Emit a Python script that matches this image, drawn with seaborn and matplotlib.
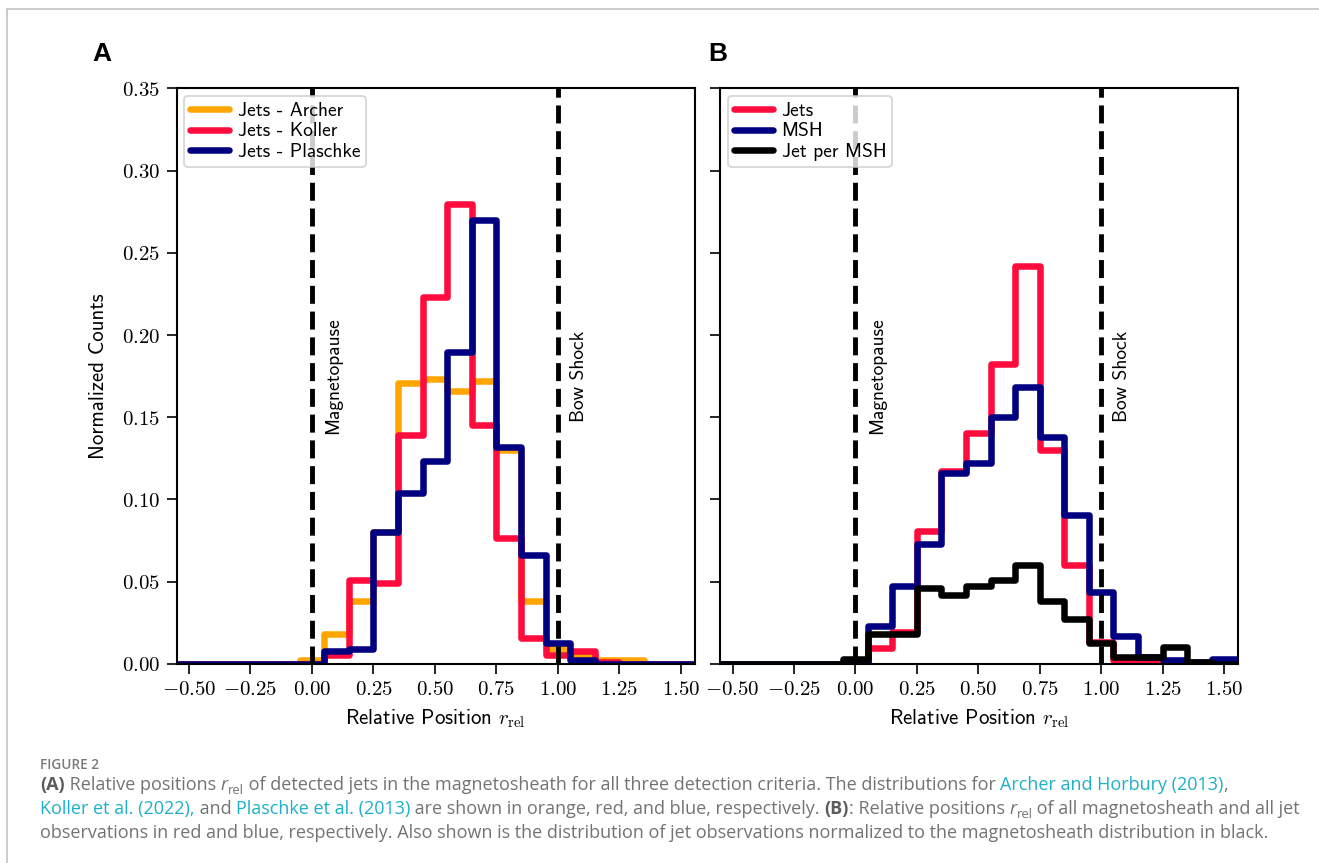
import numpy as np
import pandas as pd
import matplotlib
matplotlib.use("Agg")
import matplotlib.pyplot as plt
from matplotlib.lines import Line2D
from matplotlib.ticker import FuncFormatter
import seaborn as sns

# bin centres of the relative position r_rel (bin width 0.1)
r_centers = [-0.5, -0.4, -0.3, -0.2, -0.1, 0.0, 0.1, 0.2, 0.3, 0.4, 0.5,
             0.6, 0.7, 0.8, 0.9, 1.0, 1.1, 1.2, 1.3, 1.4, 1.5]
r_edges = [-0.55, -0.45, -0.35, -0.25, -0.15, -0.05, 0.05, 0.15, 0.25, 0.35, 0.45,
           0.55, 0.65, 0.75, 0.85, 0.95, 1.05, 1.15, 1.25, 1.35, 1.45, 1.55]

# panel A: normalized counts per detection criterion
archer = [0, 0, 0, 0, 0, 0.002, 0.018, 0.038, 0.080, 0.171, 0.173,
          0.166, 0.172, 0.130, 0.038, 0.009, 0.005, 0.002, 0.002, 0, 0]
koller = [0, 0, 0, 0, 0, 0, 0.005, 0.051, 0.049, 0.139, 0.223,
          0.280, 0.145, 0.0765, 0.0155, 0.005, 0.008, 0.001, 0, 0, 0]
plaschke = [0, 0, 0, 0, 0, 0, 0.0077, 0.009, 0.080, 0.104, 0.1235,
            0.1895, 0.270, 0.132, 0.066, 0.0124, 0.002, 0, 0, 0, 0]

# panel B: jets, magnetosheath and jets per magnetosheath
jets = [0, 0, 0, 0, 0, 0, 0.0093, 0.0193, 0.081, 0.117, 0.1406,
        0.1825, 0.242, 0.130, 0.060, 0.0135, 0.002, 0.001, 0, 0, 0]
msh = [0, 0, 0, 0, 0, 0.001, 0.0228, 0.047, 0.073, 0.116, 0.122,
       0.150, 0.1685, 0.138, 0.0905, 0.0438, 0.017, 0.0042, 0.002, 0.001, 0.0026]
jet_per_msh = [0, 0, 0, 0, 0, 0.003, 0.018, 0.018, 0.046, 0.0415, 0.0473,
               0.0508, 0.060, 0.038, 0.0275, 0.0124, 0.0042, 0.0042, 0.010, 0.001, 0]

y_ticks = [0.00, 0.05, 0.10, 0.15, 0.20, 0.25, 0.30, 0.35]
x_ticks = [-0.50, -0.25, 0.00, 0.25, 0.50, 0.75, 1.00, 1.25, 1.50]

ORANGE = "#FFA500"
RED = "#FF0B3D"
NAVY = "#000080"

W, H = 1319, 863

sns.set_theme(style="ticks", rc={
    "axes.linewidth": 1.5,
    "xtick.major.width": 1.2, "ytick.major.width": 1.2,
    "xtick.major.size": 7, "ytick.major.size": 7,
    "xtick.direction": "out", "ytick.direction": "out",
    "text.color": "black", "axes.labelcolor": "black",
    "xtick.color": "black", "ytick.color": "black",
    "axes.edgecolor": "black",
    "mathtext.fontset": "cm",
    "axes.unicode_minus": False,
})
plt.rcParams["font.family"] = ["cmss10", "DejaVu Sans"]

fig = plt.figure(figsize=(W / 100, H / 100), dpi=100)
ax_a = fig.add_axes([176.7 / W, 1 - 663.7 / H, (694.5 - 176.7) / W, (663.7 - 88.5) / H])
ax_b = fig.add_axes([720.3 / W, 1 - 663.7 / H, (1237.5 - 720.3) / W, (663.7 - 88.5) / H])

df = pd.DataFrame({"r": r_centers, "archer": archer, "koller": koller,
                   "plaschke": plaschke, "jets": jets, "msh": msh,
                   "jet_per_msh": jet_per_msh})


def step_hist(ax, col, color, label):
    sns.histplot(data=df, x="r", weights=col, bins=r_edges, element="step",
                 fill=False, color=color, linewidth=4.7, label=label, ax=ax)


step_hist(ax_a, "archer", ORANGE, "Jets - Archer")
step_hist(ax_a, "koller", RED, "Jets - Koller")
step_hist(ax_a, "plaschke", NAVY, "Jets - Plaschke")

step_hist(ax_b, "jets", RED, "Jets")
step_hist(ax_b, "msh", NAVY, "MSH")
step_hist(ax_b, "jet_per_msh", "black", "Jet per MSH")

fmt = FuncFormatter(lambda v, p: r"$%.2f$" % v)
for ax in (ax_a, ax_b):
    ax.axvline(0, color="black", linestyle="--", linewidth=3.5)
    ax.axvline(1, color="black", linestyle="--", linewidth=3.5)
    ax.text(0.05, 0.175, "Magnetopause", rotation=90, ha="left", va="center", fontsize=14)
    ax.text(0.05 + 1, 0.175, "Bow Shock", rotation=90, ha="left", va="center", fontsize=14)
    ax.set_xlim(-0.55, 1.555)
    ax.set_ylim(0, 0.35)
    ax.set_xticks(x_ticks)
    ax.set_yticks(y_ticks)
    ax.xaxis.set_major_formatter(fmt)
    ax.yaxis.set_major_formatter(fmt)
    ax.tick_params(labelsize=15, pad=5)
    ax.set_xlabel(r"Relative Position $r_{\rm rel}$", fontsize=15, labelpad=6)
    leg = ax.legend(loc="upper left", fontsize=14, handlelength=2.0, handletextpad=0.45,
                    labelspacing=0.12, borderpad=0.3, borderaxespad=0.4)
    leg.get_frame().set_linewidth(1.3)
    for s in ax.spines.values():
        s.set_visible(True)
        s.set_color("black")

ax_a.set_ylabel("Normalized Counts", fontsize=15, labelpad=10)
ax_b.set_ylabel("")
ax_b.tick_params(labelleft=False)

# panel letters
fig.text(92 / W, 1 - 61 / H, "A", fontsize=19, fontweight="bold", color="black",
         family="Liberation Sans", va="baseline")
fig.text(708 / W, 1 - 61 / H, "B", fontsize=19, fontweight="bold", color="black",
         family="Liberation Sans", va="baseline")

# page frame
fig.add_artist(Line2D([7 / W, 1], [1 - 9 / H, 1 - 9 / H], transform=fig.transFigure,
                      color="#c4c4c4", linewidth=1.2))
fig.add_artist(Line2D([7 / W, 7 / W], [0, 1 - 9 / H], transform=fig.transFigure,
                      color="#c4c4c4", linewidth=1.2))

# caption
GREY = "#737373"
DARK = "#5c5c5c"
LINK = "#1DB1C6"
CAP_FONT = ["Open Sans", "DejaVu Sans"]
CAP_SIZE = 13.0
renderer = fig.canvas.get_renderer()


def text_width(s, **kw):
    t1 = fig.text(0, 0, s + ".", **kw)
    t2 = fig.text(0, 0, ".", **kw)
    w = t1.get_window_extent(renderer).width - t2.get_window_extent(renderer).width
    t1.remove()
    t2.remove()
    return w


def caption_line(pieces, x0, y0):
    x = x0
    for s, color, weight, style, size, dy in pieces:
        kw = dict(color=color, fontweight=weight, fontstyle=style,
                  fontsize=size, family=CAP_FONT, va="baseline")
        fig.text(x / W, 1 - (y0 + dy) / H, s, **kw)
        x += text_width(s, **kw)


def g(s):
    return (s, GREY, "normal", "normal", CAP_SIZE, 0)


def link(s):
    return (s, LINK, "normal", "normal", CAP_SIZE, 0)


def bold(s):
    return (s, DARK, "bold", "normal", CAP_SIZE, 0)


r_rel = [("r", GREY, "normal", "italic", CAP_SIZE, 0),
         ("rel", GREY, "normal", "normal", CAP_SIZE * 0.72, 4)]

caption_line([("FIGURE 2", "#7a7a7a", "semibold", "normal", 9.8, 0)], 40, 769)
caption_line([bold("(A)"), g(" Relative positions ")] + r_rel +
             [g(" of detected jets in the magnetosheath for all three detection criteria. The distributions for "),
              link("Archer and Horbury (2013)"), g(",")], 40, 790)
caption_line([link("Koller et al. (2022),"), g(" and "), link("Plaschke et al. (2013)"),
              g(" are shown in orange, red, and blue, respectively. "), bold("(B)"),
              g(": Relative positions ")] + r_rel +
             [g(" of all magnetosheath and all jet")], 40, 814)
caption_line([g("observations in red and blue, respectively. Also shown is the distribution of jet "
                "observations normalized to the magnetosheath distribution in black.")], 40, 838)

fig.savefig("out.png", dpi=100)
